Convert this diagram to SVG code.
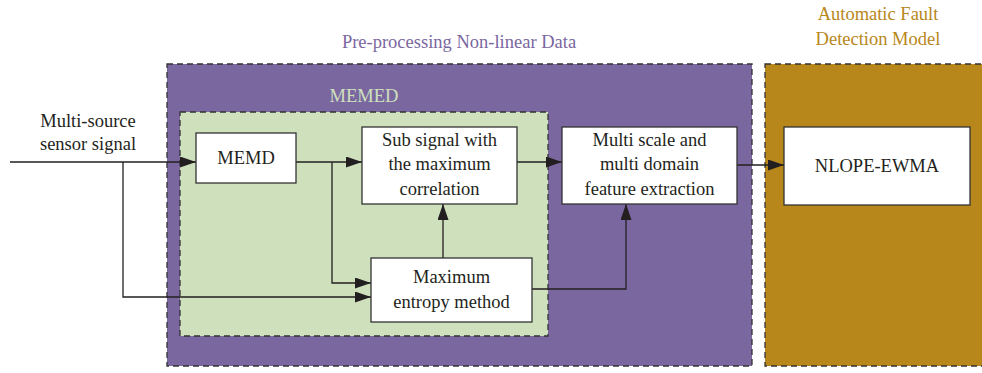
<svg xmlns="http://www.w3.org/2000/svg" width="982" height="373" viewBox="0 0 982 373">
<defs>
<marker id="ah" viewBox="0 0 16 11" refX="16" refY="5.5" markerWidth="16" markerHeight="11" markerUnits="userSpaceOnUse" orient="auto">
<path d="M0,0 L16,5.5 L0,11 z" fill="#231f20"/>
</marker>
<style>
.t{font-family:"Liberation Serif","Times New Roman",serif;font-size:18.5px;fill:#231f20;text-anchor:middle}
.box{fill:#fff;stroke:#333;stroke-width:1.3}
.grp{stroke:#333;stroke-width:1.3;stroke-dasharray:6 4}
.c{fill:none;stroke:#231f20;stroke-width:1.3;marker-end:url(#ah)}
</style>
</defs>
<rect width="982" height="373" fill="#fff"/>
<g id="preprocessing">
<rect class="grp" x="167" y="64" width="585" height="302" fill="#7a67a0"/>
<text class="t" x="459" y="48" style="fill:#7a67a0">Pre-processing Non-linear Data</text>
</g>
<g id="fault-model">
<rect class="grp" x="765" y="64" width="225" height="302" fill="#b8871b"/>
<text class="t" x="878" y="20" style="fill:#b8871b">Automatic Fault</text>
<text class="t" x="878" y="45" style="fill:#b8871b">Detection Model</text>
</g>
<g id="memed">
<rect class="grp" x="180" y="112" width="368" height="224" fill="#cfe0bd"/>
<text class="t" x="364" y="102" style="fill:#cfe0bd">MEMED</text>
</g>
<g id="input-label">
<text class="t" x="88" y="127">Multi-source</text>
<text class="t" x="88" y="150">sensor signal</text>
</g>
<g id="connectors">
<path class="c" d="M10,162 H196"/>
<path class="c" d="M123,162 V297 H371"/>
<path class="c" d="M296,162 H362"/>
<path class="c" d="M332,162 V283 H371"/>
<path class="c" d="M443,258 V204"/>
<path class="c" d="M532,289 H626 V204"/>
<path class="c" d="M517,162 H562"/>
<path class="c" d="M737,165 H784"/>
</g>
<g id="n-memd">
<rect class="box" x="196" y="133" width="100" height="50"/>
<text class="t" x="246" y="164">MEMD</text>
</g>
<g id="n-subsignal">
<rect class="box" x="362" y="127" width="155" height="77"/>
<text class="t" x="439.5" y="146">Sub signal with</text>
<text class="t" x="439.5" y="170">the maximum</text>
<text class="t" x="439.5" y="195">correlation</text>
</g>
<g id="n-multiscale">
<rect class="box" x="562" y="127" width="175" height="77"/>
<text class="t" x="649.5" y="146">Multi scale and</text>
<text class="t" x="649.5" y="170">multi domain</text>
<text class="t" x="649.5" y="195">feature extraction</text>
</g>
<g id="n-maxentropy">
<rect class="box" x="371" y="258" width="161" height="64"/>
<text class="t" x="451.5" y="283">Maximum</text>
<text class="t" x="451.5" y="308">entropy method</text>
</g>
<g id="n-nlope">
<rect class="box" x="784" y="127" width="186" height="78"/>
<text class="t" x="877" y="172">NLOPE-EWMA</text>
</g>
</svg>
